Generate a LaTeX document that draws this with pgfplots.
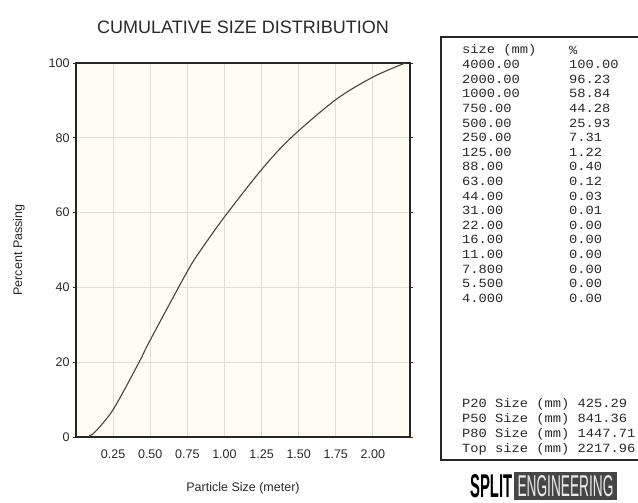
\documentclass[border=0pt]{standalone}
\usepackage{pgfplots}
\pgfplotsset{compat=1.18}
\usepackage{fontspec}
\setmainfont{Liberation Sans}
\newfontfamily\mono[FakeStretch=1.1]{Liberation Mono}
\definecolor{bgcream}{RGB}{255,253,241}
\definecolor{gridc}{RGB}{230,220,214}
\definecolor{curvec}{RGB}{75,65,65}
\definecolor{txt}{RGB}{40,40,40}
\newcommand{\tabfont}{\mono\fontsize{12.5}{14}\selectfont}
\begin{document}
\begin{tikzpicture}[x=1pt,y=1pt]
\path[use as bounding box] (0,0) rectangle (638,503);
\node[font=\fontsize{18}{20}\selectfont, text=txt] at (243,476) {CUMULATIVE SIZE DISTRIBUTION};
\begin{axis}[at={(76pt,66pt)}, anchor=south west, scale only axis,
  width=334pt, height=374pt,
  xmin=0, xmax=2.25, ymin=0, ymax=100,
  xtick={0.25,0.5,0.75,1,1.25,1.5,1.75,2},
  xticklabels={0.25,0.50,0.75,1.00,1.25,1.50,1.75,2.00},
  ytick={0,20,40,60,80,100},
  grid=major, major grid style={gridc, line width=0.8pt},
  axis background/.style={fill=bgcream},
  axis line style={black!85, line width=1.8pt},
  xtick style={draw=none},
  ytick style={black!80, line width=0.8pt},
  tick align=outside, major tick length=3pt,
  /pgf/number format/assume math mode=true,
  tick label style={font=\fontsize{12.5}{14}\selectfont, text=txt},
  xticklabel style={anchor=center, yshift=-14pt},
  xlabel={Particle Size (meter)},
  xlabel style={at={(axis description cs:0.5,-0.136)}, anchor=center, font=\fontsize{12.5}{14}\selectfont, text=txt},
  ylabel={Percent Passing},
  ylabel style={at={(axis description cs:-0.171,0.5)}, anchor=center, font=\fontsize{12.5}{14}\selectfont, text=txt},
]
\addplot[curvec, line width=1.1pt, smooth] coordinates {
  (0.088,0.40) (0.125,1.22) (0.25,7.31) (0.425,20) (0.5,25.93)
  (0.75,44.28) (0.841,50) (1.0,58.84) (1.25,71.5) (1.448,80)
  (1.75,90.2) (2.0,96.23) (2.218,100)
};
\end{axis}
% table box
\draw[line width=1.8pt, black!85] (645,466) -- (441,466) -- (441,43) -- (645,43);
\foreach \i/\a/\b in {0/size (mm)/\%, 1/4000.00/100.00, 2/2000.00/96.23, 3/1000.00/58.84,
  4/750.00/44.28, 5/500.00/25.93, 6/250.00/7.31, 7/125.00/1.22, 8/88.00/0.40,
  9/63.00/0.12, 10/44.00/0.03, 11/31.00/0.01, 12/22.00/0.00, 13/16.00/0.00,
  14/11.00/0.00, 15/7.800/0.00, 16/5.500/0.00, 17/4.000/0.00} {
  \node[anchor=west, inner sep=0, font=\tabfont, text=txt] at (462,453-14.6*\i) {\a};
  \node[anchor=west, inner sep=0, font=\tabfont, text=txt] at (569,453-14.6*\i) {\b};
}
\node[anchor=west, inner sep=0, font=\tabfont, text=txt] at (462,99) {P20 Size (mm) 425.29};
\node[anchor=west, inner sep=0, font=\tabfont, text=txt] at (462,84) {P50 Size (mm) 841.36};
\node[anchor=west, inner sep=0, font=\tabfont, text=txt] at (462,69) {P80 Size (mm) 1447.71};
\node[anchor=west, inner sep=0, font=\tabfont, text=txt] at (462,54) {Top size (mm) 2217.96};
% logo
\node[anchor=south west, inner sep=0] at (470,5) {\resizebox{42pt}{23pt}{\bfseries SPLIT}};
\fill[gray!55!black] (514,3) rectangle (617,31);
\node[inner sep=0] at (565.5,17) {\resizebox{96pt}{21pt}{\color{white!85!gray}ENGINEERING}};
\end{tikzpicture}
\end{document}
